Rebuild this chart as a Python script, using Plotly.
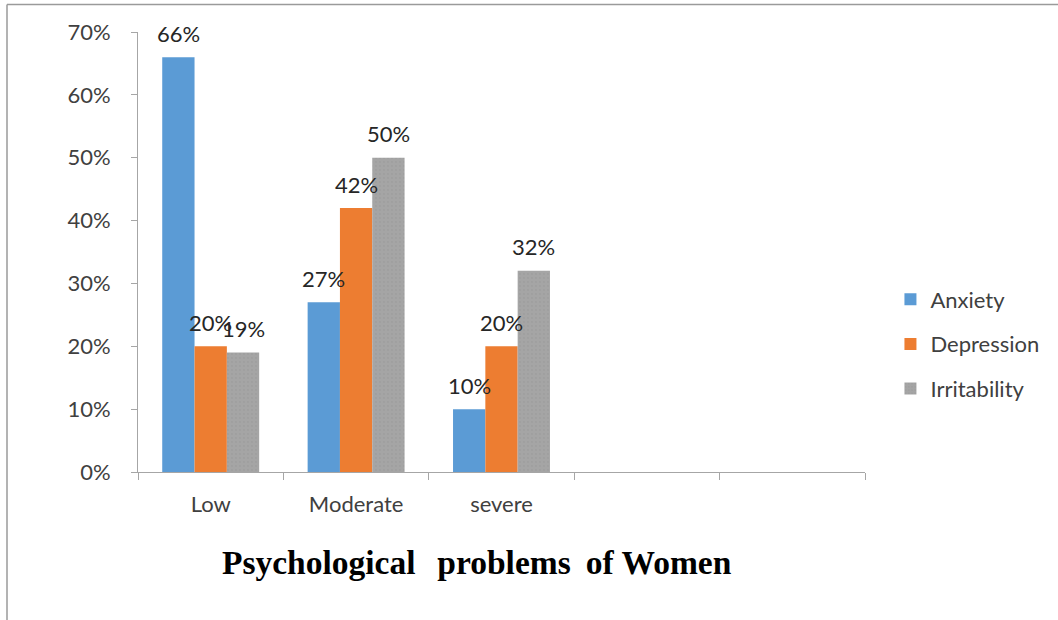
import plotly.graph_objects as go

categories = ["Low", "Moderate", "severe", "cat4", "cat5"]
tick_labels = ["Low", "Moderate", "severe", "", ""]
series_names = ["Anxiety", "Depression", "Irritability"]
anxiety = [0.66, 0.27, 0.10]
depression = [0.20, 0.42, 0.20]
irritability = [0.19, 0.50, 0.32]
colors = ["#5B9BD5", "#ED7D31", "#A5A5A5"]
y_ticks = [0, 0.1, 0.2, 0.3, 0.4, 0.5, 0.6, 0.7]
title_text = "Psychological\u2009\u2009 problems\u2009 of Women"

W, H = 1058, 620
ML, MR, MT, MB = 138, 193, 32, 148
FONT = "Lato"
FS = 22
TXT = "#404040"
bargap = 1.5 / 4.5

fig = go.Figure()
all_series = [anxiety, depression, irritability]
for i, (name, vals) in enumerate(zip(series_names, all_series)):
    marker = dict(color=colors[i], line=dict(width=0))
    if i == 2:
        marker["pattern"] = dict(shape=".", fgcolor="#999999", bgcolor=colors[i],
                                 size=4, solidity=0.25)
    fig.add_trace(go.Bar(
        x=categories[:len(vals)], y=vals, name=name,
        marker=marker, legendgroup=name,
    ))

# data labels
plot_w = W - ML - MR
plot_h = H - MT - MB
cat_w = plot_w / len(categories)
bar_w = cat_w * (1 - bargap) / len(series_names)
for i, vals in enumerate(all_series):
    for c, v in zip(categories, vals):
        fig.add_annotation(
            x=c, y=v, xref="x", yref="y", text=f"{round(v*100)}%",
            showarrow=False, xshift=(i - 1) * bar_w, yshift=24,
            yanchor="middle", font=dict(family=FONT, size=FS, color="#262626"),
        )

fig.add_annotation(
    x=(477 - ML) / plot_w, y=-(562 - (H - MB)) / plot_h,
    xref="paper", yref="paper", text=f"<b>{title_text}</b>",
    showarrow=False, xanchor="center", yanchor="middle",
    font=dict(family="Liberation Serif", size=33.5, color="#000000"),
)

# border lines (top & left)
top_y = (H - MB - 4.5) / plot_h
left_x = -(ML - 7) / plot_w
fig.add_shape(type="line", xref="paper", yref="paper",
              x0=left_x, x1=(W - ML) / plot_w, y0=top_y, y1=top_y,
              line=dict(color="#9a9a9a", width=1.5))
fig.add_shape(type="line", xref="paper", yref="paper",
              x0=left_x, x1=left_x, y0=top_y, y1=-MB / plot_h,
              line=dict(color="#9a9a9a", width=1.5))

fig.update_layout(
    width=W, height=H,
    margin=dict(l=ML, r=MR, t=MT, b=MB),
    paper_bgcolor="white", plot_bgcolor="white",
    barmode="group", bargap=bargap, bargroupgap=0,
    font=dict(family=FONT, size=FS, color=TXT),
    legend=dict(x=1.035, y=(472 - 344) / plot_h, xanchor="left", yanchor="middle",
                font=dict(family=FONT, size=FS, color=TXT),
                tracegroupgap=13, itemclick=False),
    showlegend=True,
)
fig.update_xaxes(
    type="category", categoryorder="array", categoryarray=categories,
    tickmode="array", tickvals=categories, ticktext=tick_labels,
    range=[-0.5, len(categories) - 0.5],
    showline=True, linecolor="#A6A6A6", linewidth=1,
    ticks="outside", tickson="boundaries", ticklen=7, tickcolor="#A6A6A6",
    showgrid=False, zeroline=False, ticklabelstandoff=13,
    tickfont=dict(family=FONT, size=FS, color=TXT),
)
fig.update_yaxes(
    range=[0, 0.7], tickvals=y_ticks, tickformat=".0%",
    showline=True, linecolor="#A6A6A6", linewidth=1,
    ticks="outside", ticklen=6, tickcolor="#A6A6A6",
    showgrid=False, zeroline=False, ticklabelstandoff=16,
    tickfont=dict(family=FONT, size=FS, color=TXT),
)

fig.write_html(
    "out.html",
    config={"displayModeBar": False},
    post_script="document.body.style.margin='0';document.body.style.overflow='hidden';",
)
